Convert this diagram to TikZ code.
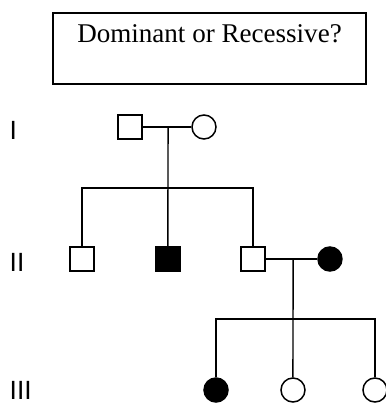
\documentclass[tikz,border=0pt]{standalone}
\usepackage{fontspec}
\setmainfont{Liberation Serif}
\newfontfamily\gensans{Liberation Sans}
\begin{document}
\begin{tikzpicture}[x=0.02cm,y=-0.02cm,line width=0.85pt,
	male/.style={rectangle,draw,minimum size=0.48cm,inner sep=0pt},
	female/.style={circle,draw,minimum size=0.48cm,inner sep=0pt},
	affected/.style={fill=black},
	gen/.style={anchor=west,inner sep=0pt,font=\gensans\fontsize{15}{15}\selectfont}]

	\useasboundingbox (0,0) rectangle (385,404);

	\node[draw,line width=1.1pt,inner sep=0pt,minimum width=6.26cm,text height=0.6cm,text depth=0.82cm,font=\fontsize{15.4}{18}\selectfont] (question) at (209.5,12) [anchor=north] {Dominant or Recessive?};

	\node[gen] (genI) at (9,130) {I};
	\node[gen] (genII) at (9,262) {II};
	\node[gen] (genIII) at (9,390) {III};

	\node[male] (father) at (130,127) {};
	\node[female] (mother) [right of=father, node distance=1.48cm] {};
	\coordinate (mar1) at (168,127);
	\coordinate (sib1) at (168,188);

	\node[male] (son1) at (82,259) {};
	\node[male,affected] (son2) [right of=son1, node distance=1.72cm] {};
	\node[male] (son3) [right of=son2, node distance=1.70cm] {};
	\node[female,affected] (wife) [right of=son3, node distance=1.54cm] {};
	\coordinate (mar2) at (293,259);
	\coordinate (sib2) at (293,319);

	\node[female,affected] (dau1) at (216,390) {};
	\node[female] (dau2) [right of=dau1, node distance=1.54cm] {};
	\node[female] (dau3) [right of=dau2, node distance=1.64cm] {};

	\draw (father) -- (mother);
	\draw (mar1) -- (son2.north);
	\draw (son1.north) |- (sib1) -| (son3.north);

	\draw (son3) -- (wife);
	\draw (mar2) -- (dau2.north);
	\draw (dau1.north) |- (sib2) -| (dau3.north);

\end{tikzpicture}
\end{document}
